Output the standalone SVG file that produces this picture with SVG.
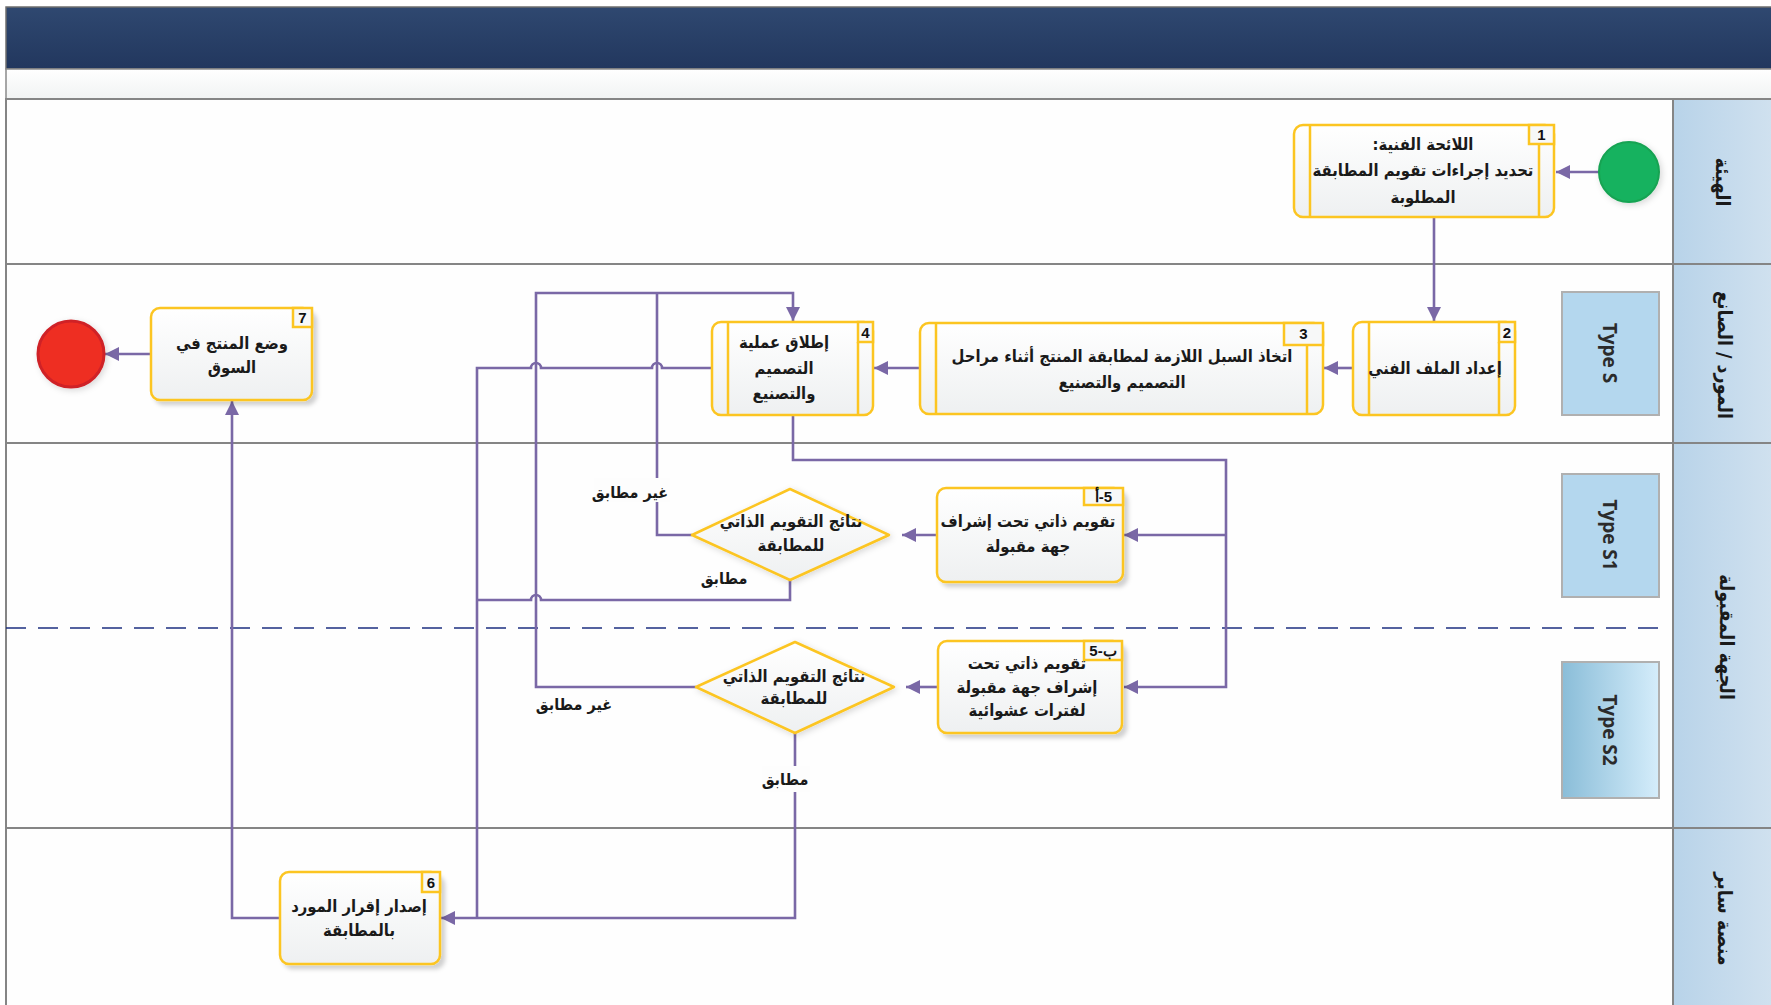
<svg xmlns="http://www.w3.org/2000/svg" width="1771" height="1005" viewBox="0 0 1771 1005">
<defs>
<linearGradient id="hdr" x1="0" y1="0" x2="0" y2="1"><stop offset="0" stop-color="#2f4870"/><stop offset="1" stop-color="#22375e"/></linearGradient>
<linearGradient id="sub" x1="0" y1="0" x2="0" y2="1"><stop offset="0" stop-color="#ffffff"/><stop offset="1" stop-color="#f1f3f3"/></linearGradient>
<linearGradient id="lanehd" x1="0" y1="0" x2="1" y2="0"><stop offset="0" stop-color="#b8d3e9"/><stop offset="1" stop-color="#d0e1ef"/></linearGradient>
<linearGradient id="node" x1="0" y1="0" x2="0" y2="1"><stop offset="0" stop-color="#ffffff"/><stop offset="1" stop-color="#eef0f1"/></linearGradient>
<linearGradient id="s2" x1="0" y1="0" x2="1" y2="0"><stop offset="0" stop-color="#8abdd8"/><stop offset="1" stop-color="#d5edfb"/></linearGradient>
<filter id="sh" x="-10%" y="-10%" width="125%" height="130%"><feDropShadow dx="4" dy="4" stdDeviation="2" flood-color="#000" flood-opacity="0.18"/></filter>
<filter id="shc" x="-30%" y="-30%" width="160%" height="160%"><feDropShadow dx="2" dy="2" stdDeviation="3" flood-color="#000" flood-opacity="0.15"/></filter>
<marker id="arr" markerUnits="userSpaceOnUse" markerWidth="15" markerHeight="14" refX="14" refY="7" orient="auto"><path d="M0,0 L14,7 L0,14 z" fill="#7a68a6"/></marker>
<style>
.lane{fill:#fefefe;stroke:#858585;stroke-width:2}
.sep{stroke:#858585;stroke-width:2;fill:none}
.box{fill:url(#node);stroke:#fcc521;stroke-width:2.5}
.in{stroke:#fcc521;stroke-width:2.5}
.num{fill:#f7f8f8;stroke:#fcc521;stroke-width:2.5}
.nt{font-family:'Liberation Sans',Arial,sans-serif;font-weight:bold;font-size:15px;fill:#111;text-anchor:middle}
.t{font-family:'DejaVu Sans Condensed','DejaVu Sans',sans-serif;font-weight:bold;font-size:16.5px;fill:#1a1a1a;text-anchor:middle;direction:rtl}
.lh{font-family:'DejaVu Sans Condensed','DejaVu Sans',sans-serif;font-weight:bold;font-size:19.5px;fill:#1a1a1a;text-anchor:middle;direction:rtl}
.ty{font-family:'Open Sans','DejaVu Sans',sans-serif;font-weight:bold;font-size:19px;fill:#2b2b2b;text-anchor:middle}
.type{stroke:#b0b0b0;stroke-width:2}
.c{fill:none;stroke:#7a68a6;stroke-width:2.6}
.lbl{font-family:'DejaVu Sans Condensed','DejaVu Sans',sans-serif;font-weight:bold;font-size:16px;fill:#1a1a1a;text-anchor:middle;direction:rtl}
</style>
</defs>

<g id="background">
<rect x="0" y="0" width="1771" height="1005" fill="#ffffff"/>
<rect x="6" y="7" width="1770" height="62" fill="url(#hdr)" stroke="#6e6e6e" stroke-width="1.5"/>
<rect x="6" y="69" width="1770" height="30" fill="url(#sub)" stroke="#8a8a8a" stroke-width="1.5"/>
</g>

<g id="lanes">
<rect class="lane" x="6" y="99" width="1667" height="165"/>
<rect class="lane" x="6" y="264" width="1667" height="179"/>
<rect class="lane" x="6" y="443" width="1667" height="385"/>
<rect class="lane" x="6" y="828" width="1667" height="180"/>
<rect x="1673" y="99" width="100" height="910" fill="url(#lanehd)" stroke="#858585" stroke-width="2"/>
<path class="sep" d="M1673,264 H1771 M1673,443 H1771 M1673,828 H1771"/>
<path d="M6,628 H1668" fill="none" stroke="#1c2f80" stroke-width="1.6" stroke-dasharray="20,12"/>
<text class="lh" transform="translate(1723,182) rotate(90)" dy="7">الهيئة</text>
<text class="lh" transform="translate(1725,355) rotate(90)" dy="7">المورد / الصانع</text>
<text class="lh" transform="translate(1727,637) rotate(90)" dy="7">الجهة المقبولة</text>
<text class="lh" transform="translate(1725,919) rotate(90)" dy="7">منصة سابر</text>
</g>

<g id="type-s">
<rect class="type" x="1562" y="292" width="97" height="123" fill="#b4d7ee"/>
<text class="ty" transform="translate(1610,353) rotate(90)" dy="7">Type S</text>
</g>
<g id="type-s1">
<rect class="type" x="1562" y="474" width="97" height="123" fill="#b4d7ee"/>
<text class="ty" transform="translate(1610,535) rotate(90)" dy="7">Type S1</text>
</g>
<g id="type-s2">
<rect class="type" x="1562" y="662" width="97" height="136" fill="url(#s2)"/>
<text class="ty" transform="translate(1610,730) rotate(90)" dy="7">Type S2</text>
</g>

<g id="connectors">
<path class="c" d="M1599,172 H1556" marker-end="url(#arr)"/>
<path class="c" d="M1434,217 V321" marker-end="url(#arr)"/>
<path class="c" d="M1353,368 H1324" marker-end="url(#arr)"/>
<path class="c" d="M920,368 H874" marker-end="url(#arr)"/>
<path class="c" d="M793,415 V460 H1226 V687 H1124" marker-end="url(#arr)"/>
<path class="c" d="M1226,535 H1124" marker-end="url(#arr)"/>
<path class="c" d="M937,535 H902" marker-end="url(#arr)"/>
<path class="c" d="M938,687 H906" marker-end="url(#arr)"/>
<path class="c" d="M692,535 H657 V293"/>
<path class="c" d="M696,687 H536 V293 H793 V321" marker-end="url(#arr)"/>
<path class="c" d="M712,368 H662 a5,5 0 0 0 -10,0 H541 a5,5 0 0 0 -10,0 H477 V918"/>
<path class="c" d="M790,580 V600 H541 a5,5 0 0 0 -10,0 H477"/>
<path class="c" d="M795,733 V918 H441" marker-end="url(#arr)"/>
<path class="c" d="M280,918 H232 V401" marker-end="url(#arr)"/>
<path class="c" d="M151,354 H105" marker-end="url(#arr)"/>
<rect x="594" y="478" width="76" height="24" fill="#fdfdfd"/>
<text class="lbl" x="630" y="498">غير مطابق</text>
<text class="lbl" x="724" y="584">مطابق</text>
<text class="lbl" x="574" y="710">غير مطابق</text>
<rect x="762" y="766" width="48" height="26" fill="#fdfdfd"/>
<text class="lbl" x="785" y="785">مطابق</text>
</g>

<g id="start">
<circle cx="1629" cy="172" r="30" fill="#18b25e" stroke="#14a352" stroke-width="2" filter="url(#shc)"/>
</g>

<g id="node1">
<rect class="box" x="1294" y="125" width="260" height="92" rx="9"/>
<path class="in" d="M1310,125 V217 M1539,144 V217"/>
<rect class="num" x="1529" y="125" width="25" height="19"/>
<text class="nt" x="1541.5" y="140">1</text>
<text class="t" x="1423" y="150">اللائحة الفنية:</text>
<text class="t" x="1423" y="176">تحديد إجراءات تقويم المطابقة</text>
<text class="t" x="1423" y="203">المطلوبة</text>
</g>

<g id="node2">
<rect class="box" x="1353" y="322" width="162" height="93" rx="9"/>
<path class="in" d="M1369,322 V415 M1499,342 V415"/>
<rect class="num" x="1499" y="322" width="16" height="20"/>
<text class="nt" x="1507" y="338">2</text>
<text class="t" x="1435" y="374">إعداد الملف الفني</text>
</g>

<g id="node3">
<rect class="box" x="920" y="323" width="403" height="91" rx="9"/>
<path class="in" d="M936,323 V414 M1307,345 V414"/>
<rect class="num" x="1284" y="323" width="39" height="22"/>
<text class="nt" x="1303.5" y="339">3</text>
<text class="t" x="1122" y="362">اتخاذ السبل اللازمة لمطابقة المنتج أثناء مراحل</text>
<text class="t" x="1122" y="388">التصميم والتصنيع</text>
</g>

<g id="node4">
<rect class="box" x="712" y="322" width="161" height="93" rx="9"/>
<path class="in" d="M728,322 V415 M858,342 V415"/>
<rect class="num" x="858" y="322" width="15" height="20"/>
<text class="nt" x="865.5" y="338">4</text>
<text class="t" x="784" y="348">إطلاق عملية</text>
<text class="t" x="784" y="374">التصميم</text>
<text class="t" x="784" y="399">والتصنيع</text>
</g>

<g id="node5a">
<rect class="box" x="937" y="488" width="186" height="94" rx="9" filter="url(#sh)"/>
<rect class="num" x="1084" y="488" width="39" height="17"/>
<text class="nt" x="1103.5" y="502" style="direction:rtl;unicode-bidi:bidi-override">5-أ</text>
<text class="t" x="1028" y="527">تقويم ذاتي تحت إشراف</text>
<text class="t" x="1028" y="552">جهة مقبولة</text>
</g>

<g id="decision1">
<path d="M790,489 L889,535 L790,580 L692,535 Z" fill="url(#node)" stroke="#fcc521" stroke-width="2.5" stroke-linejoin="round" filter="url(#shc)"/>
<text class="t" x="791" y="527">نتائج التقويم الذاتي</text>
<text class="t" x="791" y="551">للمطابقة</text>
</g>

<g id="node5b">
<rect class="box" x="938" y="641" width="184" height="92" rx="9" filter="url(#sh)"/>
<rect class="num" x="1084" y="641" width="38" height="19"/>
<text class="nt" x="1103" y="656" style="direction:ltr;unicode-bidi:bidi-override">5-ب</text>
<text class="t" x="1027" y="669">تقويم ذاتي تحت</text>
<text class="t" x="1027" y="693">إشراف جهة مقبولة</text>
<text class="t" x="1027" y="716">لفترات عشوائية</text>
</g>

<g id="decision2">
<path d="M795,642 L894,687 L795,733 L696,687 Z" fill="url(#node)" stroke="#fcc521" stroke-width="2.5" stroke-linejoin="round" filter="url(#shc)"/>
<text class="t" x="794" y="682">نتائج التقويم الذاتي</text>
<text class="t" x="794" y="704">للمطابقة</text>
</g>

<g id="node6">
<rect class="box" x="280" y="872" width="160" height="92" rx="9" filter="url(#sh)"/>
<rect class="num" x="422" y="872" width="18" height="20"/>
<text class="nt" x="431" y="888">6</text>
<text class="t" x="359" y="912">إصدار إقرار المورد</text>
<text class="t" x="359" y="936">بالمطابقة</text>
</g>

<g id="node7">
<rect class="box" x="151" y="308" width="161" height="92" rx="9" filter="url(#sh)"/>
<rect class="num" x="293" y="308" width="19" height="19"/>
<text class="nt" x="302.5" y="323">7</text>
<text class="t" x="232" y="349">وضع المنتج في</text>
<text class="t" x="232" y="373">السوق</text>
</g>

<g id="end">
<circle cx="71" cy="354" r="33" fill="#ee2e24" stroke="#cf2027" stroke-width="3" filter="url(#shc)"/>
</g>
</svg>
